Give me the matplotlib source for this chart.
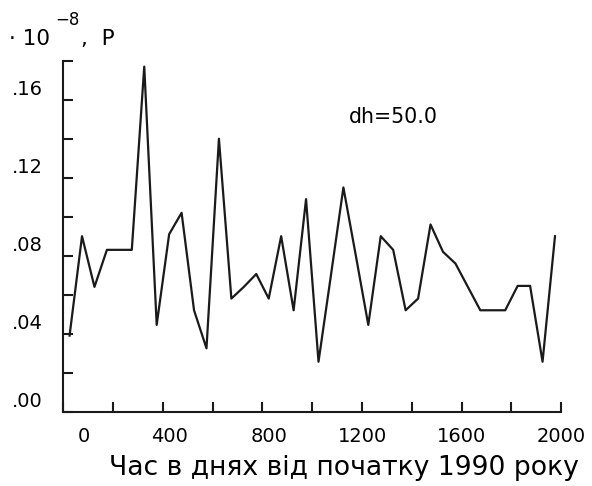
import matplotlib
matplotlib.use("Agg")
import matplotlib.pyplot as plt
from matplotlib.transforms import ScaledTranslation

# days since start of 1990 (step dh = 50)
days = [25, 75, 125, 175, 225, 275, 325, 375, 425, 475,
        525, 575, 625, 675, 725, 775, 825, 875, 925, 975,
        1025, 1075, 1125, 1175, 1225, 1275, 1325, 1375, 1425, 1475,
        1525, 1575, 1625, 1675, 1725, 1775, 1825, 1875, 1925, 1975]
values = [0.039, 0.090, 0.064, 0.083, 0.083, 0.083, 0.177, 0.0445, 0.091, 0.102,
          0.052, 0.0325, 0.140, 0.058, 0.064, 0.0706, 0.058, 0.090, 0.052, 0.109,
          0.0256, 0.070, 0.115, 0.080, 0.0445, 0.090, 0.083, 0.052, 0.058, 0.096,
          0.082, 0.076, 0.064, 0.052, 0.052, 0.052, 0.0645, 0.0645, 0.0256, 0.090]

x_major = [0, 400, 800, 1200, 1600, 2000]
x_labels = ["0", "400", "800", "1200", "1600", "2000"]
x_minor = [200, 600, 1000, 1400, 1800]
y_major = [0.0, 0.04, 0.08, 0.12, 0.16]
y_labels = [".00", ".04", ".08", ".12", ".16"]
y_minor = [0.02, 0.06, 0.10, 0.14, 0.18]

plt.rcParams['font.family'] = ['DejaVu Sans']

fig = plt.figure(figsize=(5.92, 4.86), dpi=100)
ax = fig.add_axes([0.107, 0.153, 0.841, 0.722])

ax.plot(days, values, color="#1a1a1a", lw=1.6)

ax.set_xlim(0, 2000)
ax.set_ylim(0, 0.18)
for s in ["top", "right"]:
    ax.spines[s].set_visible(False)
for s in ["left", "bottom"]:
    ax.spines[s].set_linewidth(1.5)
    ax.spines[s].set_color("#1a1a1a")

ax.set_xticks(x_major)
ax.set_xticklabels(x_labels)
ax.set_xticks(x_minor, minor=True)
ax.set_yticks(y_major)
ax.set_yticklabels(y_labels)
ax.set_yticks(y_minor, minor=True)
ax.tick_params(which="both", direction="in", length=7, width=1.5, color="#1a1a1a")
ax.tick_params(axis="x", labelsize=14, pad=11)
ax.tick_params(axis="y", labelsize=14, pad=15)

# shift labels like the original
x_shift = [21, 7, 7, 0, 0, 0]
for lab, dx in zip(ax.get_xticklabels(), x_shift):
    lab.set_transform(lab.get_transform() + ScaledTranslation(dx / 100, 0, fig.dpi_scale_trans))
for lab in ax.get_yticklabels():
    lab.set_transform(lab.get_transform() + ScaledTranslation(0, 12 / 100, fig.dpi_scale_trans))

ax.text(0.574, 0.8225, "dh=50.0", transform=ax.transAxes, fontsize=14.8, va="baseline")

# y-axis unit label in the top left corner
fig.text(9 / 592, 1 - 45 / 486, "· 10", fontsize=15.5, va="baseline")
fig.text(55 / 592, 1 - 25 / 486, "\u22128", fontsize=12, va="baseline")
fig.text(81 / 592, 1 - 45 / 486, ",  P", fontsize=15.5, va="baseline")

fig.text(344 / 592, 11 / 486, "Час в днях від початку 1990 року", fontsize=19.2,
         ha="center", va="baseline")

plt.savefig("out.png", dpi=100)
